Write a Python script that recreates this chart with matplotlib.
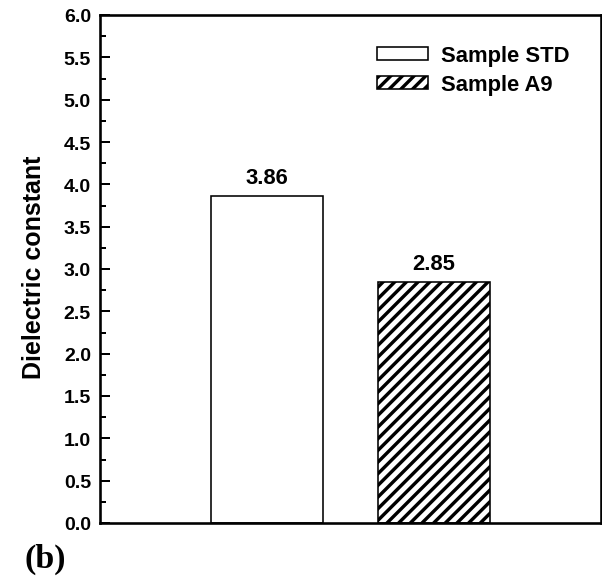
#!/usr/bin/env python3

import matplotlib
matplotlib.use('Agg')
import matplotlib.pyplot as plt
from matplotlib.ticker import MultipleLocator, FormatStrFormatter

# Dielectric constant of the two samples
samples = ['Sample STD', 'Sample A9']
dielectric = [3.86, 2.85]
positions = [1, 2]
hatches = ['', '//']

DPI = 70
PT = 72.0 / DPI   # pixel -> point at this dpi

plt.rcParams['font.family'] = ['Liberation Sans', 'DejaVu Sans']
plt.rcParams['font.weight'] = 'bold'
plt.rcParams['hatch.linewidth'] = 3.4 * PT
plt.rcParams['hatch.color'] = 'black'

fig = plt.figure(figsize=(602 / DPI, 577 / DPI), dpi=DPI)
ax = fig.add_axes([100 / 602, 53 / 577, 501 / 602, 508 / 577])

for x, v, h, lab in zip(positions, dielectric, hatches, samples):
    ax.bar(x, v, width=0.665, color='white', edgecolor='black',
           linewidth=1.6 * PT, hatch=h, label=lab)
    ax.annotate(f'{v:.2f}', (x, v), xytext=(0, 8 * PT), textcoords='offset points',
                ha='center', va='bottom', fontsize=22 * PT, fontweight='bold')

ax.set_xlim(0, 3)
ax.set_ylim(0, 6)
ax.set_xticks([])
ax.yaxis.set_major_locator(MultipleLocator(0.5))
ax.yaxis.set_minor_locator(MultipleLocator(0.25))
ax.yaxis.set_major_formatter(FormatStrFormatter('%.1f'))
ax.tick_params(axis='y', which='major', direction='in', length=10 * PT,
               width=2 * PT, pad=9 * PT, labelsize=19.5 * PT)
ax.tick_params(axis='y', which='minor', direction='in', length=6 * PT, width=2 * PT)
for s in ax.spines.values():
    s.set_linewidth(2.6 * PT)

ax.set_ylabel('Dielectric constant', fontsize=25 * PT, fontweight='bold')
ax.yaxis.set_label_coords(-0.108, 0.505)

ax.legend(loc='upper left', bbox_to_anchor=(0.553, 0.94), frameon=False,
          borderpad=0, borderaxespad=0, handlelength=2.3, handleheight=0.55,
          handletextpad=0.6, labelspacing=0.35,
          prop={'size': 22 * PT, 'weight': 'bold'})

fig.text(24 / 602, 1 - 568 / 577, '(b)', family='Liberation Serif', fontweight='bold',
         fontsize=34 * PT, ha='left', va='baseline')

fig.savefig('out.png', dpi=DPI)
